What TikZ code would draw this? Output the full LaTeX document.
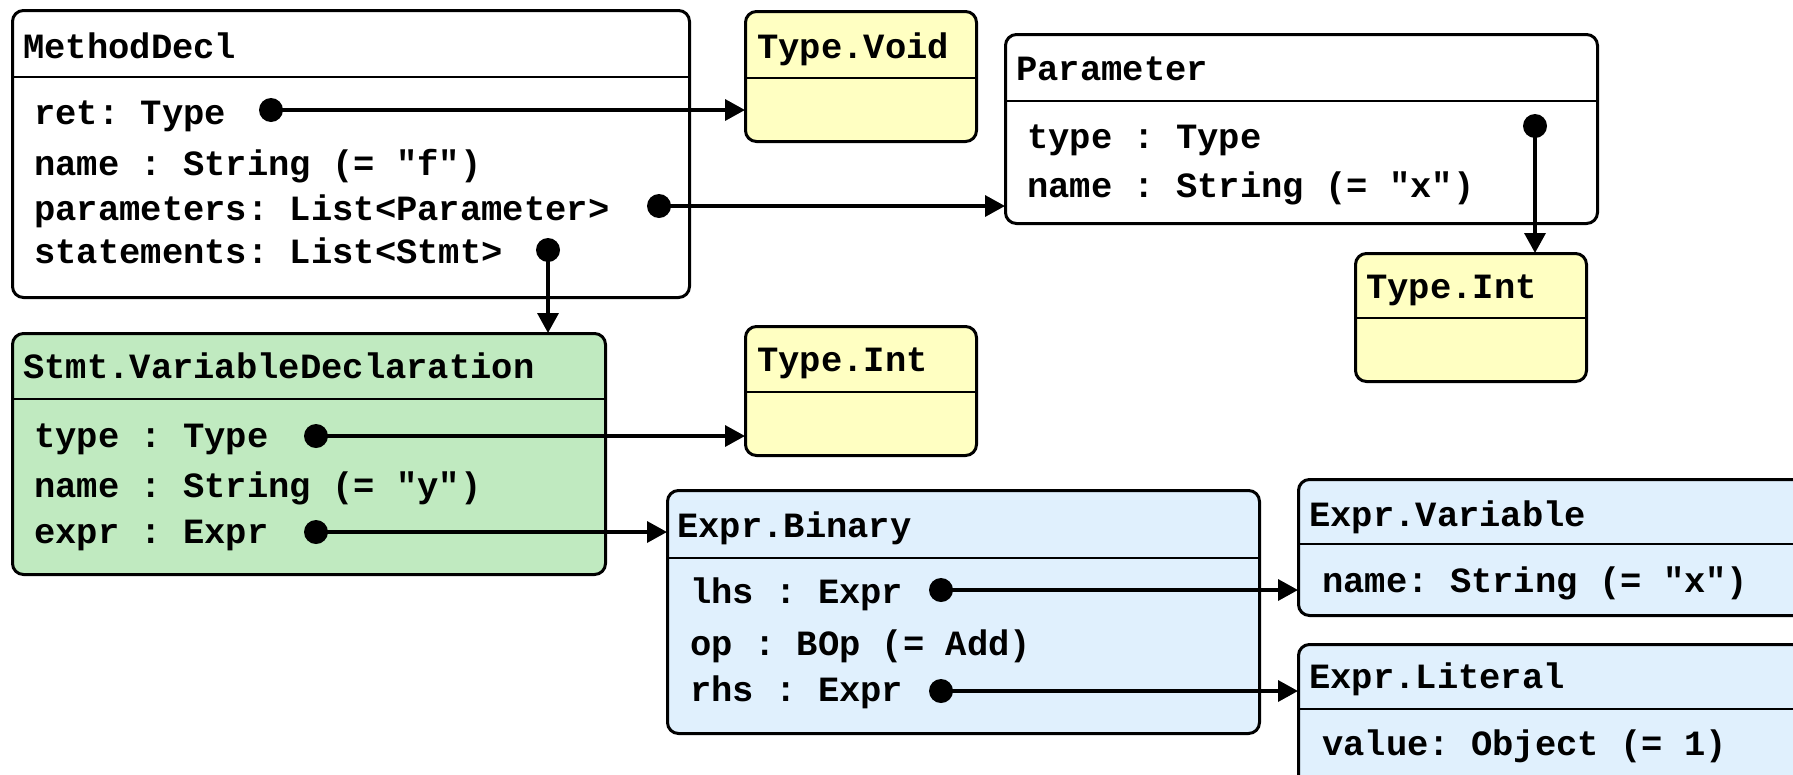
\documentclass[tikz,border=0pt]{standalone}
\usepackage{fontspec}
\setmonofont{Liberation Mono}
\usetikzlibrary{arrows.meta}
\definecolor{typeyellow}{HTML}{FFFFC2}
\definecolor{stmtgreen}{HTML}{C0EAC0}
\definecolor{exprblue}{HTML}{E0F0FD}
\tikzset{
  box/.style={draw=black, line width=3pt, rounded corners=11pt, anchor=north west, inner sep=0pt},
  sep/.style={line width=1.2pt},
  txt/.style={font=\ttfamily\bfseries\fontsize{35.5}{40}\selectfont, anchor=base west, inner sep=0pt},
  dot/.style={circle, fill=black, inner sep=0pt, minimum width=22pt, minimum height=24pt},
  conn/.style={line width=3.5pt, -{Triangle[length=20pt,width=21pt]}, shorten >=-1pt},
}
\begin{document}
\begin{tikzpicture}[x=1pt,y=-1pt]
\useasboundingbox (0,0) rectangle (1793,774);
\clip (0,0) rectangle (1793,774);

% ---- MethodDecl ----
\node[box, fill=white, minimum width=677pt, minimum height=287pt] (md) at (11,9) {};
\draw[sep] (md.west |- 0,77) -- (md.east |- 0,77);
\node[txt] (mdT) at (23,58) {MethodDecl};
\node[txt] (mdR) at (34,124) {ret: Type};
\node[txt] (mdN) at (34,175) {name : String (= "f")};
\node[txt] (mdP) at (34,220) {parameters: List<Parameter>};
\node[txt] (mdS) at (34,263) {statements: List<Stmt>};
\node[dot] (dRet) at (271,110) {};
\node[dot] (dPar) at (659,206) {};
\node[dot] (dStm) at (548,250) {};

% ---- Type.Void ----
\node[box, fill=typeyellow, minimum width=231pt, minimum height=130pt] (tv) at (744,10) {};
\draw[sep] (tv.west |- 0,78) -- (tv.east |- 0,78);
\node[txt] (tvT) at (757,58) {Type.Void};

% ---- Parameter ----
\node[box, fill=white, minimum width=592pt, minimum height=189pt] (par) at (1004,33) {};
\draw[sep] (par.west |- 0,101) -- (par.east |- 0,101);
\node[txt] (parT) at (1016,80) {Parameter};
\node[txt] (parTy) at (1027,148) {type : Type};
\node[txt] (parN) at (1027,197) {name : String (= "x")};
\node[dot] (dParTy) at (1535,126) {};

% ---- Type.Int (parameter type) ----
\node[box, fill=typeyellow, minimum width=231pt, minimum height=128pt] (ti1) at (1354,252) {};
\draw[sep] (ti1.west |- 0,318) -- (ti1.east |- 0,318);
\node[txt] (ti1T) at (1366,298) {Type.Int};

% ---- Stmt.VariableDeclaration ----
\node[box, fill=stmtgreen, minimum width=593pt, minimum height=241pt] (svd) at (11,332) {};
\draw[sep] (svd.west |- 0,399) -- (svd.east |- 0,399);
\node[txt] (svdT) at (23,378) {Stmt.VariableDeclaration};
\node[txt] (svdTy) at (34,447) {type : Type};
\node[txt] (svdN) at (34,497) {name : String (= "y")};
\node[txt] (svdE) at (34,543) {expr : Expr};
\node[dot] (dSvdTy) at (316,436) {};
\node[dot] (dSvdE) at (316,532) {};

% ---- Type.Int (variable type) ----
\node[box, fill=typeyellow, minimum width=231pt, minimum height=129pt] (ti2) at (744,325) {};
\draw[sep] (ti2.west |- 0,392) -- (ti2.east |- 0,392);
\node[txt] (ti2T) at (757,371) {Type.Int};

% ---- Expr.Binary ----
\node[box, fill=exprblue, minimum width=592pt, minimum height=243pt] (eb) at (666,489) {};
\draw[sep] (eb.west |- 0,558) -- (eb.east |- 0,558);
\node[txt] (ebT) at (677,537) {Expr.Binary};
\node[txt] (ebL) at (690,603) {lhs : Expr};
\node[txt] (ebO) at (690,655) {op : BOp (= Add)};
\node[txt] (ebR) at (690,701) {rhs : Expr};
\node[dot] (dLhs) at (941,590) {};
\node[dot] (dRhs) at (941,691) {};

% ---- Expr.Variable ----
\node[box, fill=exprblue, minimum width=523pt, minimum height=136pt] (ev) at (1297,478) {};
\draw[sep] (ev.west |- 0,544) -- (ev.east |- 0,544);
\node[txt] (evT) at (1309,526) {Expr.Variable};
\node[txt] (evN) at (1322,592) {name: String (= "x")};

% ---- Expr.Literal ----
\node[box, fill=exprblue, minimum width=523pt, minimum height=160pt] (el) at (1297,643) {};
\draw[sep] (el.west |- 0,709) -- (el.east |- 0,709);
\node[txt] (elT) at (1309,688) {Expr.Literal};
\node[txt] (elV) at (1322,755) {value: Object (= 1)};

% ---- references ----
\draw[conn] (dRet.center) -- (tv.west |- dRet.center);
\draw[conn] (dPar.center) -- (par.west |- dPar.center);
\draw[conn] (dStm.center) -- (dStm.center |- svd.north);
\draw[conn] (dParTy.center) -- (dParTy.center |- ti1.north);
\draw[conn] (dSvdTy.center) -- (ti2.west |- dSvdTy.center);
\draw[conn] (dSvdE.center) -- (eb.west |- dSvdE.center);
\draw[conn] (dLhs.center) -- (ev.west |- dLhs.center);
\draw[conn] (dRhs.center) -- (el.west |- dRhs.center);
\end{tikzpicture}
\end{document}
